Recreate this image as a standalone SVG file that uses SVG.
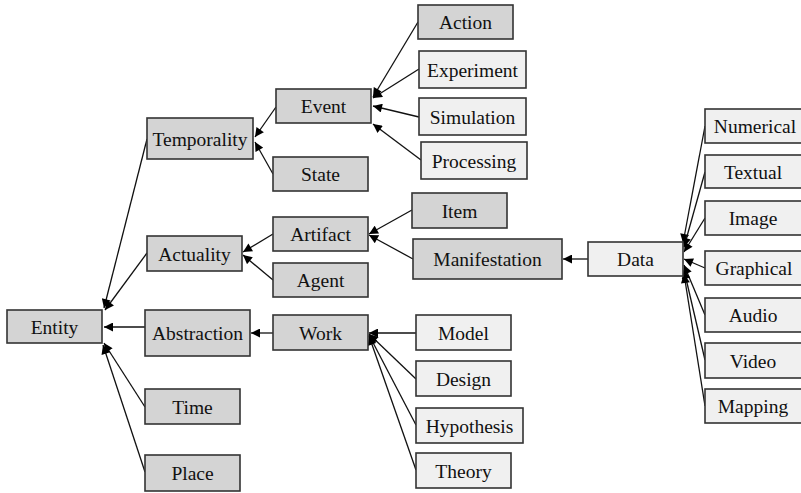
<svg xmlns="http://www.w3.org/2000/svg" width="801" height="493" viewBox="0 0 801 493">
<defs>
<marker id="ah" viewBox="0 0 10 10" refX="10" refY="5" markerWidth="10" markerHeight="9" markerUnits="userSpaceOnUse" orient="auto">
<path d="M0,0 L10,5 L0,10 z" fill="#000"/>
</marker>
<style>
.d{fill:#d4d4d4;stroke:#333;stroke-width:1.6}
.l{fill:#f0f0f0;stroke:#333;stroke-width:1.6}
text{font-family:"Liberation Serif","Times New Roman",serif;font-size:19.5px;fill:#111;text-anchor:middle;dominant-baseline:central}
.c line{stroke:#111;stroke-width:1.3;marker-end:url(#ah)}
</style>
</defs>
<rect width="801" height="493" fill="#fff"/>
<g class="c">
<line x1="147" y1="139" x2="104" y2="308"/>
<line x1="147" y1="253" x2="105" y2="310"/>
<line x1="145" y1="327" x2="104" y2="327"/>
<line x1="145" y1="407" x2="104" y2="343"/>
<line x1="145" y1="472" x2="103" y2="345"/>
<line x1="276" y1="107" x2="255" y2="137"/>
<line x1="273" y1="174" x2="255" y2="142"/>
<line x1="418" y1="22" x2="373" y2="97"/>
<line x1="419" y1="69" x2="373" y2="98"/>
<line x1="419" y1="117" x2="373" y2="106"/>
<line x1="421" y1="160" x2="373" y2="124"/>
<line x1="273" y1="234" x2="243" y2="252"/>
<line x1="273" y1="280" x2="243" y2="255"/>
<line x1="412" y1="210" x2="369" y2="234"/>
<line x1="413" y1="259" x2="369" y2="235"/>
<line x1="588" y1="259" x2="563" y2="259"/>
<line x1="273" y1="333" x2="251" y2="333"/>
<line x1="416" y1="333" x2="369" y2="333"/>
<line x1="416" y1="379" x2="369" y2="334"/>
<line x1="416" y1="425" x2="369" y2="335"/>
<line x1="416" y1="470" x2="369" y2="336"/>
<line x1="705" y1="126" x2="683" y2="243"/>
<line x1="705" y1="172" x2="684" y2="247"/>
<line x1="705" y1="218" x2="684" y2="252"/>
<line x1="705" y1="268" x2="684" y2="259"/>
<line x1="705" y1="315" x2="684" y2="265"/>
<line x1="705" y1="360" x2="684" y2="270"/>
<line x1="705" y1="406" x2="684" y2="274"/>
</g>
<g id="entity"><rect class="d" x="7" y="310" width="95" height="33"/><text x="54.5" y="327">Entity</text></g>
<g id="temporality"><rect class="d" x="147" y="118" width="106" height="41"/><text x="200" y="139">Temporality</text></g>
<g id="actuality"><rect class="d" x="147" y="236" width="95" height="35"/><text x="194.5" y="254">Actuality</text></g>
<g id="abstraction"><rect class="d" x="145" y="310" width="105" height="46"/><text x="197.5" y="333.5">Abstraction</text></g>
<g id="time"><rect class="d" x="145" y="389" width="95" height="35"/><text x="192.5" y="407">Time</text></g>
<g id="place"><rect class="d" x="145" y="455" width="95" height="36"/><text x="192.5" y="473.5">Place</text></g>
<g id="event"><rect class="d" x="276" y="89" width="95" height="34"/><text x="323.5" y="106.5">Event</text></g>
<g id="state"><rect class="d" x="273" y="157" width="95" height="34"/><text x="320.5" y="174.5">State</text></g>
<g id="action"><rect class="d" x="418" y="5" width="95" height="34"/><text x="465.5" y="22.5">Action</text></g>
<g id="experiment"><rect class="l" x="419" y="51" width="107" height="37"/><text x="472.5" y="70">Experiment</text></g>
<g id="simulation"><rect class="l" x="419" y="98" width="107" height="37"/><text x="472.5" y="117">Simulation</text></g>
<g id="processing"><rect class="l" x="421" y="142" width="106" height="37"/><text x="474" y="161">Processing</text></g>
<g id="artifact"><rect class="d" x="273" y="217" width="95" height="34"/><text x="320.5" y="234.5">Artifact</text></g>
<g id="agent"><rect class="d" x="273" y="263" width="95" height="34"/><text x="320.5" y="280.5">Agent</text></g>
<g id="item"><rect class="d" x="412" y="193" width="95" height="35"/><text x="459.5" y="211">Item</text></g>
<g id="manifestation"><rect class="d" x="413" y="239" width="149" height="40"/><text x="487.5" y="259.5">Manifestation</text></g>
<g id="data"><rect class="l" x="588" y="242" width="95" height="34"/><text x="635.5" y="259.5">Data</text></g>
<g id="work"><rect class="d" x="273" y="315" width="95" height="35"/><text x="320.5" y="333">Work</text></g>
<g id="model"><rect class="l" x="416" y="315" width="95" height="35"/><text x="463.5" y="333">Model</text></g>
<g id="design"><rect class="l" x="416" y="361" width="95" height="35"/><text x="463.5" y="379">Design</text></g>
<g id="hypothesis"><rect class="l" x="416" y="408" width="107" height="35"/><text x="469.5" y="426">Hypothesis</text></g>
<g id="theory"><rect class="l" x="416" y="453" width="95" height="35"/><text x="463.5" y="471">Theory</text></g>
<g id="numerical"><rect class="l" x="705" y="109" width="100" height="34"/><text x="755" y="126.5">Numerical</text></g>
<g id="textual"><rect class="l" x="705" y="155" width="100" height="33"/><text x="753" y="172">Textual</text></g>
<g id="image"><rect class="l" x="705" y="201" width="100" height="34"/><text x="753" y="218.5">Image</text></g>
<g id="graphical"><rect class="l" x="705" y="251" width="100" height="34"/><text x="754" y="268.5">Graphical</text></g>
<g id="audio"><rect class="l" x="705" y="298" width="100" height="34"/><text x="753" y="315.5">Audio</text></g>
<g id="video"><rect class="l" x="705" y="343" width="100" height="35"/><text x="753" y="361">Video</text></g>
<g id="mapping"><rect class="l" x="705" y="389" width="100" height="34"/><text x="753" y="406.5">Mapping</text></g>
</svg>
